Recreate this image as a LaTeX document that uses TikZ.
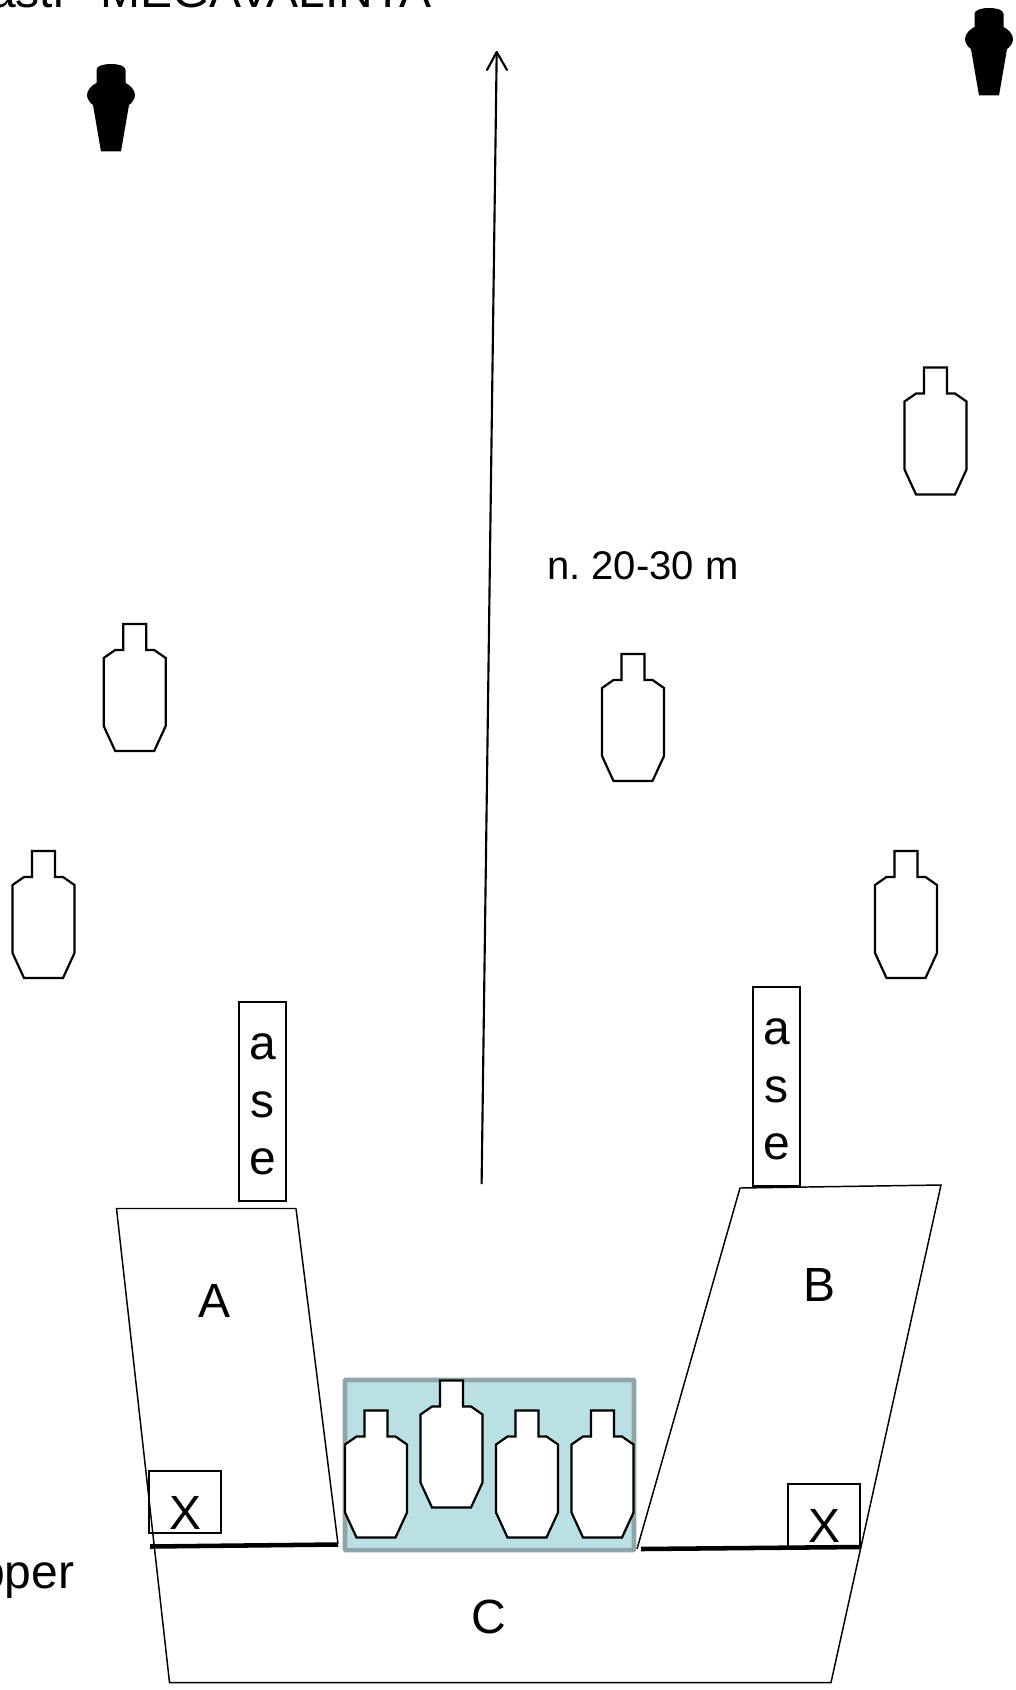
\documentclass[tikz,border=0pt]{standalone}
\usepackage{fontspec}
\setmainfont{Liberation Sans}
\frenchspacing
\tikzset{
  x=0.75pt,y=-0.75pt,
  outline/.style={draw=black,line width=1.1pt,line join=miter},
  tgtline/.style={draw=black,fill=white,line width=1.65pt,line join=miter},
  heavy/.style={draw=black,line width=3.4pt},
  boxed/.style={draw=black,line width=1.3pt},
  arrowline/.style={draw=black,line width=1.6pt},
  bigtext/.style={font=\fontsize{36}{43}\selectfont,inner sep=0pt},
  midtext/.style={font=\fontsize{30}{36}\selectfont,inner sep=0pt},
  letter/.style={font=\fontsize{36}{43}\selectfont,inner sep=0pt},
  target/.pic={
    \path[tgtline] (-11.5,0) -- (11.5,0) -- (11.5,26) -- (19.5,26) -- (31,34) -- (31,102) -- (19.5,127) -- (-19.5,127) -- (-31,102) -- (-31,34) -- (-19.5,26) -- (-11.5,26) -- cycle;
  },
  noshoot/.pic={
    \fill[black] (-10,87.5) -- (-18,41) .. controls (-21,39) and (-24,35) .. (-24,31)
      .. controls (-24,26) and (-19,21) .. (-14.5,19) -- (-14.5,6)
      .. controls (-14.5,2) and (-8,0) .. (0,0)
      .. controls (8,0) and (14.5,2) .. (14.5,6) -- (14.5,19)
      .. controls (19,21) and (24,26) .. (24,31)
      .. controls (24,35) and (21,39) .. (18,41) -- (10,87.5) -- cycle;
  }
}
\begin{document}
\begin{tikzpicture}
\useasboundingbox (0,0) rectangle (1016,1690);
\clip (0,0) rectangle (1016,1690);

% top texts and stopper text
\node[bigtext,anchor=base west] (title) at (100,8) {MEGAVALINTA};
\node[bigtext,anchor=base east] (asti) at (64,8) {Rasti};
\node[bigtext,anchor=base east] (stopper) at (74.5,1588) {Stopper};
\node[midtext,anchor=base west] (dist) at (547,579.5) {n. 20-30 m};

% no-shoots
\pic at (111,64) {noshoot};
\pic at (989,8) {noshoot};

% free targets
\pic at (935.5,367.5) {target};
\pic at (134.7,624) {target};
\pic at (633,654) {target};
\pic at (43.5,851) {target};
\pic at (906,851) {target};

% main arrow
\coordinate (arrowstart) at (481.6,1184);
\coordinate (arrowend) at (496.7,52);
\coordinate (headl) at (487,70);
\coordinate (headr) at (507,70);
\draw[arrowline] (arrowstart) -- (arrowend);
\draw[arrowline,line cap=round,line join=round] (headl) -- (arrowend) -- (headr);

% shooting areas
\coordinate (atl) at (116.5,1208.5);
\coordinate (atr) at (296,1208.5);
\coordinate (abr) at (338,1544);
\coordinate (cbl) at (169.5,1682.5);
\coordinate (cbr) at (831,1682.5);
\coordinate (btl) at (740,1188);
\coordinate (btr) at (941,1185);
\coordinate (bbl) at (637,1549);
\draw[outline] (atr) -- (atl) -- (cbl) -- (cbr) -- (btr) -- (btl) -- (bbl);
\draw[outline] (atr) -- (abr);

% teal box
\coordinate (boxa) at (345,1380);
\coordinate (boxb) at (634,1550);
\fill[fill={rgb,255:red,187;green,224;blue,227},draw={rgb,255:red,143;green,165;blue,168},line width=3.4pt,rounded corners=0.5pt] (boxa) rectangle (boxb);
\pic at (376,1410.5) {target};
\pic at (451.5,1380.5) {target};
\pic at (527,1410.5) {target};
\pic at (602.5,1410.5) {target};

% fault lines
\coordinate (fla) at (150,1546.5);
\coordinate (flb) at (338,1544.5);
\coordinate (fra) at (641,1549);
\coordinate (frb) at (860,1547);
\draw[heavy] (fla) -- (flb);
\draw[heavy] (fra) -- (frb);

% X boxes
\node[boxed,minimum width=54pt,minimum height=47pt,inner sep=0pt] (xl) at (185,1502) {};
\node[boxed,minimum width=54pt,minimum height=47pt,inner sep=0pt] (xr) at (824,1515.5) {};
\node[letter] (xlt) at (185.5,1513) {X};
\node[letter] (xrt) at (824,1526) {X};

% ase boxes
\node[boxed,minimum width=35pt,minimum height=149pt,inner sep=0pt] (asel) at (262.5,1101.5) {};
\node[boxed,minimum width=35pt,minimum height=149pt,inner sep=0pt] (aser) at (776.5,1086.5) {};
\node[letter,anchor=base] (a1) at (262.5,1059) {a};
\node[letter,anchor=base] (s1) at (262.5,1117) {s};
\node[letter,anchor=base] (e1) at (262.5,1174.5) {e};
\node[letter,anchor=base] (a2) at (776.5,1044) {a};
\node[letter,anchor=base] (s2) at (776.5,1102) {s};
\node[letter,anchor=base] (e2) at (776.5,1159.5) {e};

% area letters
\node[letter] (la) at (215,1301) {A};
\node[letter] (lb) at (819.5,1285) {B};
\node[letter] (lc) at (488.5,1617) {C};
\end{tikzpicture}
\end{document}
